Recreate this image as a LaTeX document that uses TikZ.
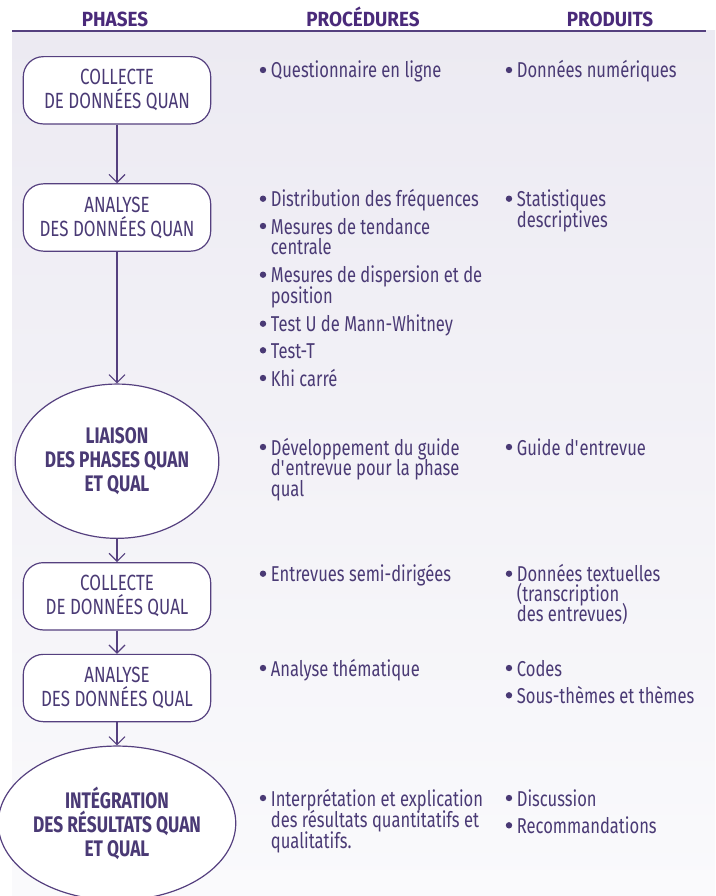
\documentclass[tikz,border=0pt]{standalone}
\usepackage{fontspec}
\setmainfont{Fira Sans}[FakeStretch=0.77]
\newfontfamily\hdfont{Fira Sans}[FakeStretch=0.92]
\usetikzlibrary{arrows.meta,shapes.geometric}
\definecolor{txt}{HTML}{4A3A75}
\definecolor{hd}{HTML}{4A2A7A}
\definecolor{lc}{HTML}{55407F}
\definecolor{bgtop}{HTML}{ECEAF2}
\definecolor{bgbot}{HTML}{FAFAFC}
\newcommand\bul[2]{\fill[txt] (#1-7.7,#2-8) circle (3.2);}
\newcommand\qs{\textquotesingle}
\begin{document}
\begin{tikzpicture}[x=1pt,y=-1pt,
  phase/.style={draw=lc, line width=1.2pt, fill=white, rounded corners=20pt,
    minimum width=187.4pt, minimum height=67.3pt, inner sep=0pt, align=center,
    text=txt, font=\fontsize{22}{24}\selectfont},
  hub/.style={ellipse, draw=lc, line width=1.2pt, fill=white,
    minimum width=187.4pt, minimum height=154.3pt, inner sep=0pt, align=center,
    text=txt, font=\bfseries\fontsize{22.5}{24}\selectfont},
  hdr/.style={anchor=base, inner sep=0pt, text=hd, font=\hdfont\bfseries\fontsize{20.5}{20}\selectfont},
  itm/.style={anchor=base west, inner sep=0pt, text=txt, font=\fontsize{21.5}{20}\selectfont},
  arr/.style={draw=lc, line width=1.1pt, -{Straight Barb[length=8pt,width=16pt]}}]
\clip (0,0) rectangle (715,896);
\useasboundingbox (0,0) rectangle (715,896);
\shade[top color=bgtop, bottom color=bgbot] (12,31) rectangle (715,896);
\draw[lc, line width=1.5pt] (12,31) -- (706,31);
% headers
\node[hdr] (hph) at (115,27) {PHASES};
\node[hdr] (hpr) at (363,27) {PROCÉDURES};
\node[hdr] (hpo) at (610,27) {PRODUITS};
% phases
\node[phase] (b1) at (117,90.3) {COLLECTE\\DE DONNÉES QUAN};
\node[phase] (b2) at (117,217.5) {ANALYSE\\DES DONNÉES QUAN};
\node[hub] (h1) at (117,461.2) {LIAISON\\DES PHASES QUAN\\ET QUAL};
\node[phase] (b3) at (117,596.3) {COLLECTE\\DE DONNÉES QUAL};
\node[phase] (b4) at (117,688) {ANALYSE\\DES DONNÉES QUAL};
\node[hub] (h2) at (117,823.2) {INTÉGRATION\\DES RÉSULTATS QUAN\\ET QUAL};
\draw[arr] (b1) -- (b2);
\draw[arr] (b2) -- (h1);
\draw[arr] (h1) -- (b3);
\draw[arr] (b3) -- (b4);
\draw[arr] (b4) -- (h2);
% procedures
\bul{270.7}{78}\node[itm] (p1) at (270.7,78) {Questionnaire en ligne};
\bul{270.7}{206.7}\node[itm] (p2a) at (270.7,206.7) {Distribution des fréquences};
\bul{270.7}{234}\node[itm] (p2b) at (270.7,234) {Mesures de tendance};
\node[itm] (p2bb) at (270.7,254.5) {centrale};
\bul{270.7}{282.7}\node[itm] (p2c) at (270.7,282.7) {Mesures de dispersion et de};
\node[itm] (p2cc) at (270.7,303) {position};
\bul{270.7}{331.7}\node[itm] (p2d) at (270.7,331.7) {Test U de Mann-Whitney};
\bul{270.7}{358.3}\node[itm] (p2e) at (270.7,358.3) {Test-T};
\bul{270.7}{386}\node[itm] (p2f) at (270.7,386) {Khi carré};
\bul{270.7}{455}\node[itm] (p3a) at (270.7,455) {Développement du guide};
\node[itm] (p3b) at (270.7,475.5) {d\qs entrevue pour la phase};
\node[itm] (p3c) at (270.7,496) {qual};
\bul{270.7}{581.7}\node[itm] (p4) at (270.7,581.7) {Entrevues semi-dirigées};
\bul{270.7}{676}\node[itm] (p5) at (270.7,676) {Analyse thématique};
\bul{270.7}{806}\node[itm] (p6a) at (270.7,806) {Interprétation et explication};
\node[itm] (p6b) at (270.7,827.5) {des résultats quantitatifs et};
\node[itm] (p6c) at (270.7,848.3) {qualitatifs.};
% products
\bul{516.7}{78}\node[itm] (r1) at (516.7,78) {Données numériques};
\bul{516.7}{206.7}\node[itm] (r2a) at (516.7,206.7) {Statistiques};
\node[itm] (r2b) at (516.7,227) {descriptives};
\bul{516.7}{455}\node[itm] (r3) at (516.7,455) {Guide d\qs entrevue};
\bul{516.7}{581.7}\node[itm] (r4a) at (516.7,581.7) {Données textuelles};
\node[itm] (r4b) at (516.7,601.7) {(transcription};
\node[itm] (r4c) at (516.7,621.7) {des entrevues)};
\bul{516.7}{676}\node[itm] (r5a) at (516.7,676) {Codes};
\bul{516.7}{703.3}\node[itm] (r5b) at (516.7,703.3) {Sous-thèmes et thèmes};
\bul{516.7}{806}\node[itm] (r6a) at (516.7,806) {Discussion};
\bul{516.7}{833.3}\node[itm] (r6b) at (516.7,833.3) {Recommandations};
\end{tikzpicture}
\end{document}
